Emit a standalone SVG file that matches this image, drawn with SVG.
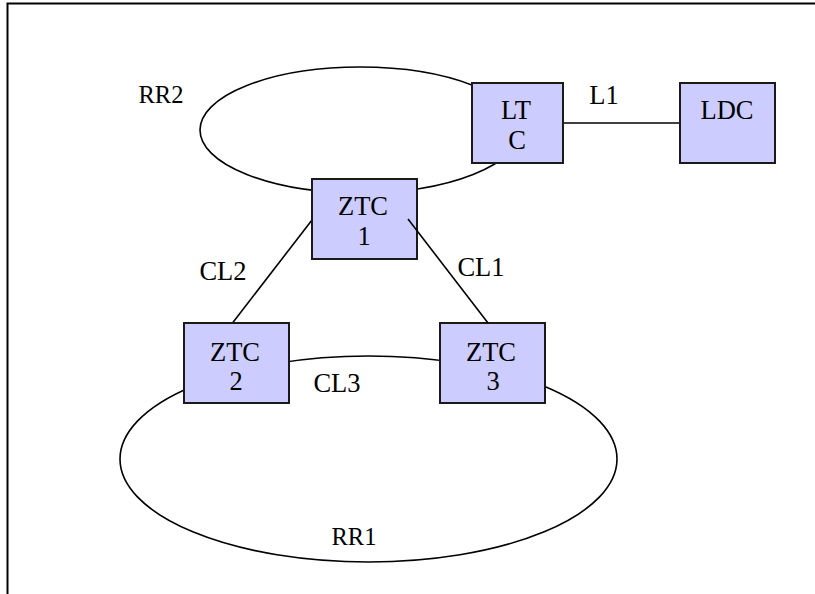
<svg xmlns="http://www.w3.org/2000/svg" width="815" height="594" viewBox="0 0 815 594">
<style>
.bg{fill:#ffffff}
.frame{fill:none;stroke:#000;stroke-width:2}
.ring{fill:none;stroke:#000;stroke-width:1.6}
.link{fill:none;stroke:#000;stroke-width:1.6}
.box{fill:#ccccff;stroke:#1a1a1a;stroke-width:2}
.t{font-family:"Liberation Serif","Times New Roman",serif;font-size:26.5px;fill:#000;text-anchor:middle}
.rr{font-family:"Liberation Serif","Times New Roman",serif;font-size:24.5px;fill:#000;text-anchor:middle}
</style>
<rect class="bg" x="0" y="0" width="815" height="594"/>
<polyline class="frame" points="7.5,594 7.5,3.5 815,3.5"/>
<g id="connectors">
<ellipse id="RR2" class="ring" cx="360" cy="130" rx="160" ry="63"/>
<ellipse id="RR1" class="ring" cx="368.5" cy="459" rx="248.5" ry="103"/>
<line id="L1" class="link" x1="562" y1="123" x2="680" y2="123"/>
<line id="CL2" class="link" x1="312" y1="220" x2="232.5" y2="323"/>
</g>
<g id="labels">
<text class="rr" x="161" y="103">RR2</text>
<text class="rr" x="354" y="545">RR1</text>
<text class="t" x="604" y="104">L1</text>
<text class="t" x="223" y="280">CL2</text>
<text class="t" x="481" y="276">CL1</text>
<text class="t" x="337" y="392">CL3</text>
</g>
<g id="LTC">
<rect class="box" x="472" y="83" width="91" height="80"/>
<text class="t" x="516" y="119">LT</text>
<text class="t" x="517" y="149">C</text>
</g>
<g id="LDC">
<rect class="box" x="680" y="83" width="95" height="80"/>
<text class="t" x="727" y="119">LDC</text>
</g>
<g id="ZTC1">
<rect class="box" x="312" y="179" width="105" height="80"/>
<text class="t" x="363" y="215">ZTC</text>
<text class="t" x="364" y="245">1</text>
</g>
<g id="ZTC2">
<rect class="box" x="184" y="323" width="105" height="80"/>
<text class="t" x="235" y="361">ZTC</text>
<text class="t" x="236" y="390">2</text>
</g>
<g id="ZTC3">
<rect class="box" x="440" y="323" width="105" height="80"/>
<text class="t" x="491" y="361">ZTC</text>
<text class="t" x="493" y="390">3</text>
</g>
<g id="connectors-top">
<line id="CL1" class="link" x1="408" y1="219" x2="488" y2="323"/>
</g>
</svg>
